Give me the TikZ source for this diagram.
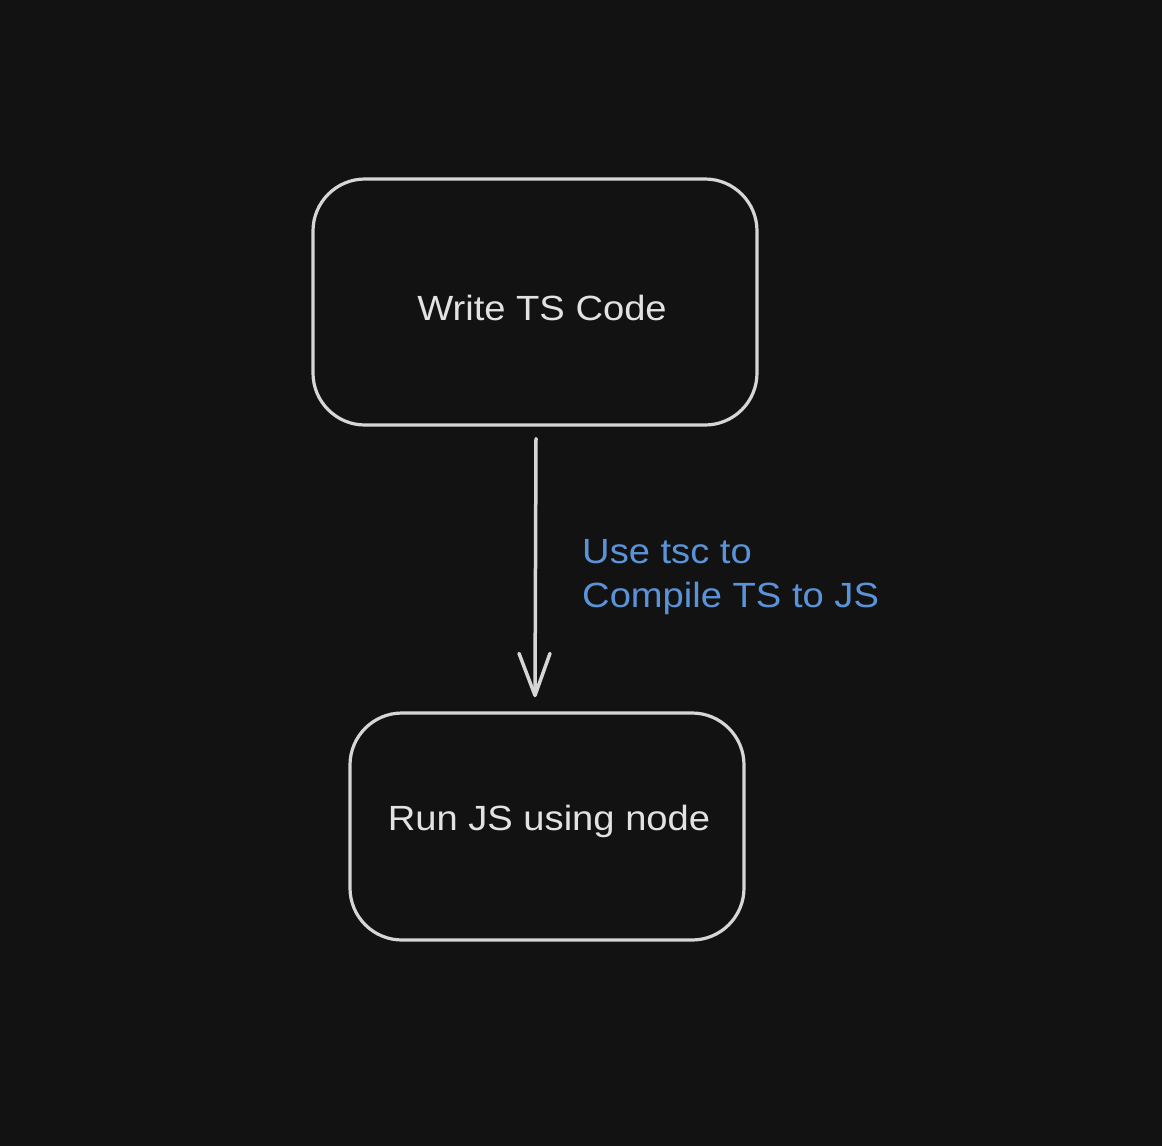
\documentclass[tikz,border=0pt]{standalone}
\usepackage{fontspec}
\usetikzlibrary{calc}
\setmainfont{Liberation Sans}[FakeStretch=1.09]
\definecolor{bg}{HTML}{121212}
\definecolor{strokec}{HTML}{D6D6D6}
\definecolor{textc}{HTML}{E2E2E2}
\definecolor{bluec}{HTML}{5B93D9}
\begin{document}
\begin{tikzpicture}[x=1pt,y=-1pt,
  boxstyle/.style={draw=strokec, line width=3.2pt, rounded corners=52pt, inner sep=0pt},
  boxtext/.style={text=textc, font=\fontsize{35}{42}\selectfont},
  labeltext/.style={text=bluec, font=\fontsize{35}{44}\selectfont, align=left, anchor=north west, inner sep=0pt},
  arrowline/.style={draw=strokec, line width=3.5pt, line cap=round, line join=round}]
\fill[bg] (0,0) rectangle (1162,1146);
\useasboundingbox (0,0) rectangle (1162,1146);
\node[boxstyle, minimum width=444pt, minimum height=246pt] (write) at (535,302) {};
\node[boxtext] (writet) at (542,308) {Write TS Code};
\node[boxstyle, minimum width=394pt, minimum height=227pt] (run) at (547,826.5) {};
\node[boxtext] (runt) at (549,821) {Run JS using node};
\coordinate (astart) at ($(write.south)+(1,12)$);
\coordinate (aend) at ($(run.north)+(-12,-16)$);
\draw[arrowline] (astart) -- (aend);
\draw[arrowline] ($(aend)+(-16,-42)$) -- (aend) -- ($(aend)+(15,-42)$);
\node[labeltext] (lbl) at (582,539) {Use tsc to\\Compile TS to JS};
\end{tikzpicture}
\end{document}
